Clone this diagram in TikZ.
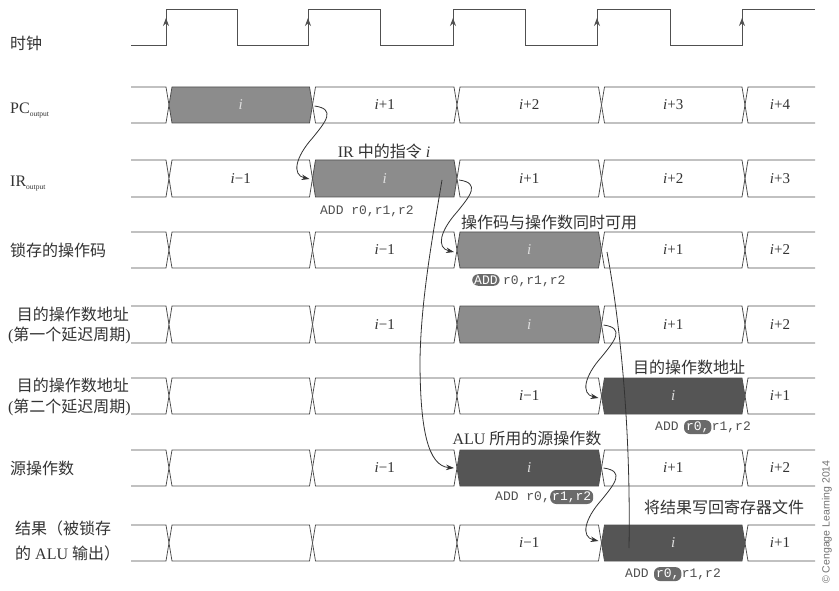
\documentclass[tikz,border=0pt]{standalone}
\usepackage{fontspec}
\setmainfont{Liberation Serif}
\newfontfamily\zhfont{Noto Sans CJK SC}
\newfontfamily\monof{Liberation Mono}
\newfontfamily\sansf{Liberation Sans}
\usetikzlibrary{arrows.meta,calc}
\definecolor{ln}{HTML}{505050}
\definecolor{tx}{HTML}{333333}
\definecolor{gA}{HTML}{8C8C8C}
\definecolor{gB}{HTML}{555555}
\definecolor{pl}{HTML}{6A6A6A}
\newcommand\zh[1]{{\zhfont #1}}
\newcommand\iI{\textit{i}}
\def\Ta{169}\def\Tb{312.5}\def\Tc{457}\def\Td{601.5}\def\Te{745}
\def\Xs{131}\def\Xe{815}
\newcommand\segL[2]{\draw[busline] (\Xs,#1) -- (\Ta-3,#1) -- (\Ta,{(#1+#2)/2}) -- (\Ta-3,#2) -- (\Xs,#2);}
\newcommand\segR[4]{%
  \draw[busline] (\Xe,#1) -- (\Te+3,#1) -- (\Te,{(#1+#2)/2}) -- (\Te+3,#2) -- (\Xe,#2);
  \node[segtxt] (#4) at ({(\Te+\Xe)/2},{(#1+#2)/2}) {#3};}
\newcommand\seg[7]{%
  \draw[busline,box#5] (#1,{(#3+#4)/2}) -- (#1+3,#3) -- (#2-3,#3) -- (#2,{(#3+#4)/2}) -- (#2-3,#4) -- (#1+3,#4) -- cycle;
  \node[segtxt,txt#5] (#7) at ({(#1+#2)/2},{(#3+#4)/2}) {#6};}
\tikzset{
  busline/.style={draw=ln, line width=0.8pt, line join=miter},
  boxW/.style={fill=white}, boxA/.style={fill=gA}, boxB/.style={fill=gB},
  segtxt/.style={font=\fontsize{15}{17}\selectfont, text=tx, inner sep=0pt},
  txtW/.style={}, txtA/.style={text=white!88!black}, txtB/.style={text=white!88!black},
  lbl/.style={font=\fontsize{16}{18}\selectfont, text=tx, inner sep=0pt},
  ann/.style={font=\fontsize{16}{18}\selectfont, text=tx, inner sep=0pt},
  mono/.style={font=\monof\fontsize{13}{15}\selectfont, text=ln, inner sep=0pt},
  pill/.style={font=\monof\fontsize{13}{15}\selectfont, fill=pl, text=white, rounded corners=6pt, inner xsep=2pt, inner ysep=1.5pt},
  clk/.style={draw=ln, line width=0.8pt},
  clkarr/.style={draw=ln, line width=0.8pt, -{Stealth[length=8pt,width=6pt]}},
  arr/.style={draw=black!80, line width=0.8pt, -{Stealth[length=8pt,width=5.5pt]}},
  plain/.style={draw=black!80, line width=0.8pt}
}
\begin{document}
\begin{tikzpicture}[x=1pt,y=-1pt]
\useasboundingbox[fill=white] (0,0) rectangle (839,591);
% clock
\draw[clk] (\Xs,45) -- (166,45) -- (166,9.5) -- (237,9.5) -- (237,45) -- (308,45) -- (308,9.5) -- (380,9.5) -- (380,45) -- (453,45) -- (453,9.5) -- (525,9.5) -- (525,45) -- (597,45) -- (597,9.5) -- (670,9.5) -- (670,45) -- (742,45) -- (742,9.5) -- (\Xe,9.5);
\foreach \x in {166,308,453,597,742} \draw[clkarr] (\x,34) -- (\x,18);
% PC
\segL{87}{123}
\seg{\Ta}{\Tb}{87}{123}{A}{\iI}{pc1}
\seg{\Tb}{\Tc}{87}{123}{W}{\iI+1}{pc2}
\seg{\Tc}{\Td}{87}{123}{W}{\iI+2}{pc3}
\seg{\Td}{\Te}{87}{123}{W}{\iI+3}{pc4}
\segR{87}{123}{\iI+4}{pc5}
% IR
\segL{160}{197}
\seg{\Ta}{\Tb}{160}{197}{W}{\iI−1}{ir1}
\seg{\Tb}{\Tc}{160}{197}{A}{\iI}{ir2}
\seg{\Tc}{\Td}{160}{197}{W}{\iI+1}{ir3}
\seg{\Td}{\Te}{160}{197}{W}{\iI+2}{ir4}
\segR{160}{197}{\iI+3}{ir5}
% opcode
\segL{232}{268}
\seg{\Ta}{\Tb}{232}{268}{W}{}{op1}
\seg{\Tb}{\Tc}{232}{268}{W}{\iI−1}{op2}
\seg{\Tc}{\Td}{232}{268}{A}{\iI}{op3}
\seg{\Td}{\Te}{232}{268}{W}{\iI+1}{op4}
\segR{232}{268}{\iI+2}{op5}
% dest 1
\segL{306}{343}
\seg{\Ta}{\Tb}{306}{343}{W}{}{da1}
\seg{\Tb}{\Tc}{306}{343}{W}{\iI−1}{da2}
\seg{\Tc}{\Td}{306}{343}{A}{\iI}{da3}
\seg{\Td}{\Te}{306}{343}{W}{\iI+1}{da4}
\segR{306}{343}{\iI+2}{da5}
% dest 2
\segL{378}{414}
\seg{\Ta}{\Tb}{378}{414}{W}{}{db1}
\seg{\Tb}{\Tc}{378}{414}{W}{}{db2}
\seg{\Tc}{\Td}{378}{414}{W}{\iI−1}{db3}
\seg{\Td}{\Te}{378}{414}{B}{\iI}{db4}
\segR{378}{414}{\iI+1}{db5}
% source
\segL{450}{486}
\seg{\Ta}{\Tb}{450}{486}{W}{}{sr1}
\seg{\Tb}{\Tc}{450}{486}{W}{\iI−1}{sr2}
\seg{\Tc}{\Td}{450}{486}{B}{\iI}{sr3}
\seg{\Td}{\Te}{450}{486}{W}{\iI+1}{sr4}
\segR{450}{486}{\iI+2}{sr5}
% result
\segL{525}{561}
\seg{\Ta}{\Tb}{525}{561}{W}{}{rs1}
\seg{\Tb}{\Tc}{525}{561}{W}{}{rs2}
\seg{\Tc}{\Td}{525}{561}{W}{\iI−1}{rs3}
\seg{\Td}{\Te}{525}{561}{B}{\iI}{rs4}
\segR{525}{561}{\iI+1}{rs5}
% left labels
\node[lbl, anchor=west] (lclk) at (10,43) {\zh{时钟}};
\node[lbl, anchor=base west] (lpc) at (10,114) {PC\raisebox{-3pt}{\fontsize{7.5}{8}\selectfont output}};
\node[lbl, anchor=base west] (lir) at (10,187) {IR\raisebox{-3pt}{\fontsize{7.5}{8}\selectfont output}};
\node[lbl, anchor=west] (lop) at (10,250) {\zh{锁存的操作码}};
\node[lbl, anchor=east] (ld1a) at (129,314) {\zh{目的操作数地址}};
\node[lbl, anchor=east] (ld1b) at (131,335) {(\zh{第一个延迟周期})};
\node[lbl, anchor=east] (ld2a) at (129,385) {\zh{目的操作数地址}};
\node[lbl, anchor=east] (ld2b) at (131,407) {(\zh{第二个延迟周期})};
\node[lbl, anchor=west] (lsrc) at (10,468) {\zh{源操作数}};
\node[lbl, anchor=west] (lres1) at (15,528) {\zh{结果（被锁存}};
\node[lbl, anchor=west] (lres2) at (15,553) {\zh{的} ALU \zh{输出）}};
% arrows
\coordinate (a1s) at (\Tb+2,106); \coordinate (a1m) at (\Tb,138); \coordinate (a1e) at (\Tb-3,179);
\coordinate (a2s) at (\Tc+2,180); \coordinate (a2m) at (\Tc,212); \coordinate (a2e) at (\Tc-3,252);
\coordinate (a3s) at (\Td+2,325); \coordinate (a3m) at (\Td,357); \coordinate (a3e) at (\Td-3,398);
\coordinate (a4s) at (\Td+2,468); \coordinate (a4m) at (\Td,500); \coordinate (a4e) at (\Td-3,541);
\foreach \a in {a1,a2,a3,a4}
  \draw[arr] (\a s) .. controls +(22,3) and +(13,-16) .. (\a m) .. controls +(-17,19) and +(-18,-4) .. (\a e);
\coordinate (a5s) at (442,180); \coordinate (a5m) at (420,360); \coordinate (a5e) at (454,468);
\draw[arr] (a5s) .. controls +(-10,60) and +(1,-60) .. (a5m) .. controls +(0,70) and +(-26,-2) .. (a5e);
\coordinate (l6s) at (607,252); \coordinate (l6e) at (629,548);
\draw[plain] (l6s) .. controls +(13,70) and +(2,-120) .. (l6e);
% annotations
\node[ann] (aIR) at (384,151) {IR \zh{中的指令} \iI};
\node[mono] (c1) at (367,211) {ADD r0,r1,r2};
\node[ann] (aop) at (549,222) {\zh{操作码与操作数同时可用}};
\node[pill, anchor=west] (c2a) at (472,280) {ADD};
\node[mono, anchor=base west] (c2b) at ([xshift=3pt]c2a.base east) {r0,r1,r2};
\node[ann] (ad2) at (689,367) {\zh{目的操作数地址}};
\node[mono, anchor=west] (c3a) at (655,426) {ADD};
\node[pill, anchor=base west] (c3b) at ([xshift=5pt]c3a.base east) {r0,};
\node[mono, anchor=base west] (c3c) at (c3b.base east) {r1,r2};
\node[ann] (asrc) at (527,438) {ALU \zh{所用的源操作数}};
\node[mono, anchor=west] (c4a) at (495,497) {ADD r0,};
\node[pill, anchor=base west] (c4b) at (c4a.base east) {r1,r2};
\node[ann] (ares) at (724,507) {\zh{将结果写回寄存器文件}};
\node[mono, anchor=west] (c5a) at (625,573) {ADD};
\node[pill, anchor=base west] (c5b) at ([xshift=5pt]c5a.base east) {r0,};
\node[mono, anchor=base west] (c5c) at (c5b.base east) {r1,r2};
\node[rotate=90, font=\sansf\fontsize{10.5}{12}\selectfont, text=black!55, inner sep=0pt] (copy) at (827,522) {© Cengage Learning 2014};
\end{tikzpicture}
\end{document}
